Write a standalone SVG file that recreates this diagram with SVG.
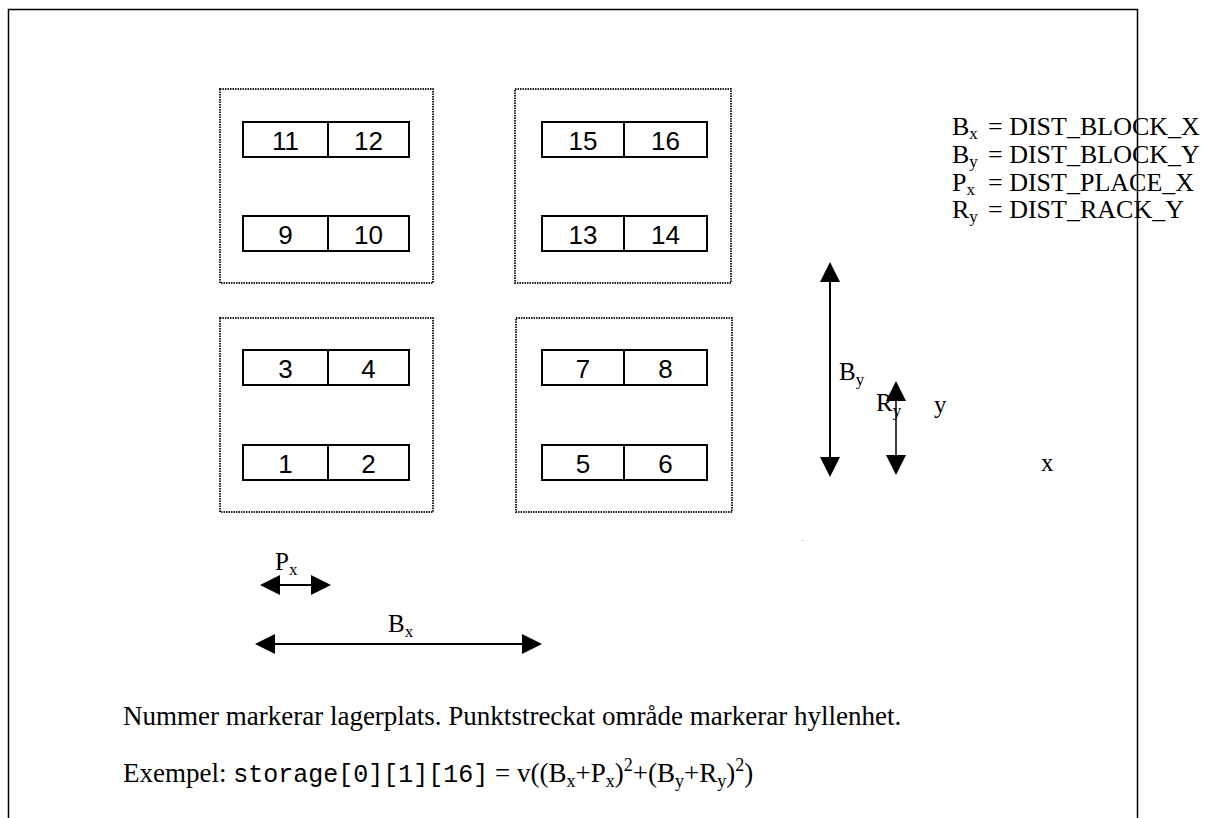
<svg xmlns="http://www.w3.org/2000/svg" width="1216" height="818" viewBox="0 0 1216 818">
<defs>
<style>
.frame{fill:none;stroke:#000;stroke-width:1.5}
.block{fill:none;stroke:#222;stroke-width:2;stroke-dasharray:1.5 1}
.rack{fill:#fff;stroke:#000;stroke-width:2}
.div{stroke:#000;stroke-width:2}
.num{font-family:"Liberation Sans",Arial,sans-serif;font-size:26px;text-anchor:middle;fill:#000}
.lbl{font-family:"Liberation Serif","Times New Roman",serif;font-size:25px;fill:#000}
.eq{font-family:"Liberation Serif","Times New Roman",serif;font-size:26px;fill:#000}
.body{font-family:"Liberation Serif","Times New Roman",serif;font-size:27px;fill:#000}
.mono{font-family:"Liberation Mono","Courier New",monospace;font-size:25px}
.dim{stroke:#000;stroke-width:2;fill:none}
.dim2{stroke:#000;stroke-width:1.5;fill:none}
</style>
<marker id="ah" markerUnits="userSpaceOnUse" markerWidth="20" markerHeight="20" refX="0" refY="10" viewBox="0 0 20 20" orient="auto-start-reverse"><path d="M0,0 L20,10 L0,20 z" fill="#000"/></marker>
</defs>
<rect width="1216" height="818" fill="#fff"/>
<path class="frame" d="M8.5,818 V9.5 H1137.5 V818"/>

<g id="block-tl"><rect class="block" x="220" y="89" width="213" height="194"/></g>
<g id="block-tr"><rect class="block" x="515" y="89" width="216" height="194"/></g>
<g id="block-bl"><rect class="block" x="220" y="318" width="213" height="194"/></g>
<g id="block-br"><rect class="block" x="516" y="318" width="216" height="194"/></g>

<g id="rack-11-12"><rect class="rack" x="243" y="122" width="166" height="35"/><line class="div" x1="328" y1="122" x2="328" y2="157"/><text class="num" x="285.5" y="149.5">11</text><text class="num" x="368.5" y="149.5">12</text></g>
<g id="rack-9-10"><rect class="rack" x="243" y="216" width="166" height="35"/><line class="div" x1="328" y1="216" x2="328" y2="251"/><text class="num" x="285.5" y="243.5">9</text><text class="num" x="368.5" y="243.5">10</text></g>
<g id="rack-15-16"><rect class="rack" x="542" y="122" width="165" height="35"/><line class="div" x1="624" y1="122" x2="624" y2="157"/><text class="num" x="583" y="149.5">15</text><text class="num" x="665.5" y="149.5">16</text></g>
<g id="rack-13-14"><rect class="rack" x="542" y="216" width="165" height="35"/><line class="div" x1="624" y1="216" x2="624" y2="251"/><text class="num" x="583" y="243.5">13</text><text class="num" x="665.5" y="243.5">14</text></g>
<g id="rack-3-4"><rect class="rack" x="243" y="350" width="166" height="35"/><line class="div" x1="328" y1="350" x2="328" y2="385"/><text class="num" x="285.5" y="377.5">3</text><text class="num" x="368.5" y="377.5">4</text></g>
<g id="rack-1-2"><rect class="rack" x="243" y="445" width="166" height="35"/><line class="div" x1="328" y1="445" x2="328" y2="480"/><text class="num" x="285.5" y="472.5">1</text><text class="num" x="368.5" y="472.5">2</text></g>
<g id="rack-7-8"><rect class="rack" x="542" y="350" width="165" height="35"/><line class="div" x1="624" y1="350" x2="624" y2="385"/><text class="num" x="583" y="377.5">7</text><text class="num" x="665.5" y="377.5">8</text></g>
<g id="rack-5-6"><rect class="rack" x="542" y="445" width="165" height="35"/><line class="div" x1="624" y1="445" x2="624" y2="480"/><text class="num" x="583" y="472.5">5</text><text class="num" x="665.5" y="472.5">6</text></g>

<g id="connectors">
<line class="dim" x1="830" y1="282" x2="830" y2="457" marker-start="url(#ah)" marker-end="url(#ah)"/>
<line class="dim2" x1="896" y1="401" x2="896" y2="455" marker-start="url(#ah)" marker-end="url(#ah)"/>
<line class="dim" x1="280" y1="585" x2="311" y2="585" marker-start="url(#ah)" marker-end="url(#ah)"/>
<line class="dim" x1="275" y1="644" x2="522" y2="644" marker-start="url(#ah)" marker-end="url(#ah)"/>
</g>

<g id="labels">
<text class="lbl" x="839" y="380">B<tspan font-size="17" dy="5">y</tspan></text>
<text class="lbl" x="876" y="411">R<tspan font-size="17" dy="5">y</tspan></text>
<text class="lbl" x="934" y="413">y</text>
<text class="lbl" x="1041" y="471">x</text>
<text class="lbl" x="275" y="570">P<tspan font-size="17" dy="5">x</tspan></text>
<text class="lbl" x="388" y="632">B<tspan font-size="17" dy="5">x</tspan></text>
<rect x="802" y="540" width="1" height="1" fill="#999"/>
</g>

<g id="legend">
<text class="eq" x="952" y="135">B<tspan font-size="17" dy="4">x</tspan><tspan x="988" dy="-4">= DIST_BLOCK_X</tspan></text>
<text class="eq" x="952" y="163">B<tspan font-size="17" dy="4">y</tspan><tspan x="988" dy="-4">= DIST_BLOCK_Y</tspan></text>
<text class="eq" x="952" y="191">P<tspan font-size="17" dy="4">x</tspan><tspan x="988" dy="-4">= DIST_PLACE_X</tspan></text>
<text class="eq" x="952" y="218">R<tspan font-size="17" dy="4">y</tspan><tspan x="988" dy="-4">= DIST_RACK_Y</tspan></text>
</g>

<g id="notes">
<text class="body" x="123" y="725">Nummer markerar lagerplats. Punktstreckat område markerar hyllenhet.</text>
<text class="body" x="123" y="782">Exempel: <tspan class="mono">storage[0][1][16]</tspan> = v((B<tspan font-size="18" dy="5">x</tspan><tspan dy="-5">+P</tspan><tspan font-size="18" dy="5">x</tspan><tspan dy="-5">)</tspan><tspan font-size="18" dy="-11">2</tspan><tspan dy="11">+(B</tspan><tspan font-size="18" dy="5">y</tspan><tspan dy="-5">+R</tspan><tspan font-size="18" dy="5">y</tspan><tspan dy="-5">)</tspan><tspan font-size="18" dy="-11">2</tspan><tspan dy="11">)</tspan></text>
</g>
</svg>
